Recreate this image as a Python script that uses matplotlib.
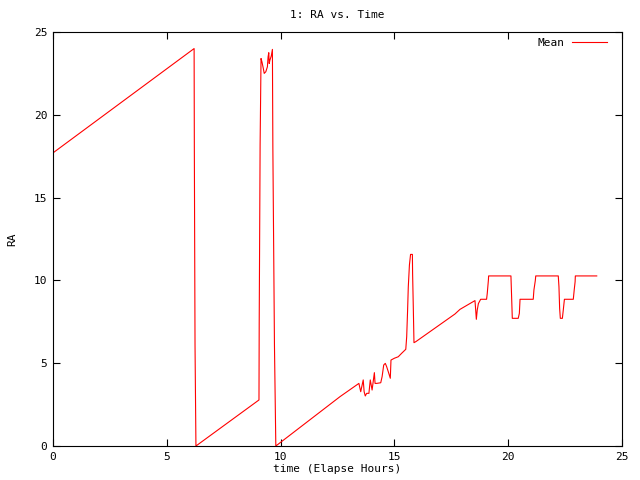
import matplotlib
matplotlib.use("Agg")
import matplotlib.pyplot as plt

time_h = [0.00, 6.20, 6.21, 6.24, 6.28, 9.05, 9.06, 9.10, 9.14, 9.18, 9.24, 9.28, 9.35,
          9.42, 9.45, 9.48, 9.50, 9.53, 9.59, 9.64, 9.66, 9.73, 9.79,
          12.61, 13.44, 13.52, 13.63, 13.67, 13.72, 13.78, 13.88, 13.94, 14.02, 14.12,
          14.15, 14.22, 14.40, 14.46, 14.53, 14.60, 14.66, 14.73, 14.82, 14.85, 15.00,
          15.17, 15.32, 15.50, 15.54, 15.58, 15.61, 15.66, 15.71, 15.79, 15.80, 15.83,
          15.86, 15.94, 17.66, 17.88, 18.54, 18.57, 18.60, 18.64, 18.69, 18.79, 19.05,
          19.08, 19.13, 19.14, 20.12, 20.15, 20.18, 20.44, 20.49, 20.52, 21.10, 21.13,
          21.19, 21.21, 22.20, 22.23, 22.26, 22.29, 22.38, 22.42, 22.47, 22.86, 22.90,
          22.94, 22.95, 23.89]
ra_mean = [17.70, 24.00, 18.00, 6.10, 0.00, 2.78, 7.40, 18.20, 23.40, 23.20, 22.80, 22.50, 22.60,
           22.90, 23.50, 23.75, 23.10, 23.30, 23.55, 23.95, 18.00, 6.10, 0.00,
           2.98, 3.78, 3.28, 3.99, 3.28, 3.02, 3.18, 3.18, 3.99, 3.38, 4.43,
           3.78, 3.78, 3.82, 4.19, 4.89, 4.99, 4.79, 4.49, 4.09, 5.19, 5.30,
           5.39, 5.60, 5.84, 6.60, 8.20, 9.60, 10.93, 11.57, 11.57, 10.40, 8.40,
           6.24, 6.30, 7.97, 8.25, 8.78, 8.25, 7.65, 8.21, 8.60, 8.86, 8.86,
           9.22, 10.02, 10.27, 10.27, 9.02, 7.71, 7.71, 8.01, 8.86, 8.86, 9.42,
           9.98, 10.27, 10.27, 9.62, 8.31, 7.71, 7.71, 8.21, 8.86, 8.86, 9.42,
           9.92, 10.27, 10.27]

xticks = [0, 5, 10, 15, 20, 25]
yticks = [0, 5, 10, 15, 20, 25]

plt.rcParams['font.family'] = ['DejaVu Sans Mono']
plt.rcParams['font.size'] = 8

fig = plt.figure(figsize=(6.4, 4.8), dpi=100)
ax = fig.add_axes([53/640, 1-446/480, (622-53)/640, (446-32)/480])
ax.plot(time_h, ra_mean, color='#ff0000', lw=0.8, label='Mean')
ax.set_xlim(0, 25)
ax.set_ylim(0, 25)
ax.set_xticks(xticks)
ax.set_yticks(yticks)
ax.tick_params(direction='in', top=True, right=True, length=5, width=0.8, pad=4, labelsize=8)
for s in ax.spines.values():
    s.set_linewidth(0.8)
ax.set_title('1: RA vs. Time', fontsize=8, pad=10)
ax.set_xlabel('time (Elapse Hours)', fontsize=8, labelpad=2)
ax.set_ylabel('RA', fontsize=8, labelpad=12)
ax.legend(loc='upper right', frameon=False, markerfirst=False, fontsize=8,
          handlelength=3.2, borderaxespad=0.3, handletextpad=0.6,
          bbox_to_anchor=(1 - 7/569, 1 + 2/414))
fig.savefig('out.png', dpi=100)
